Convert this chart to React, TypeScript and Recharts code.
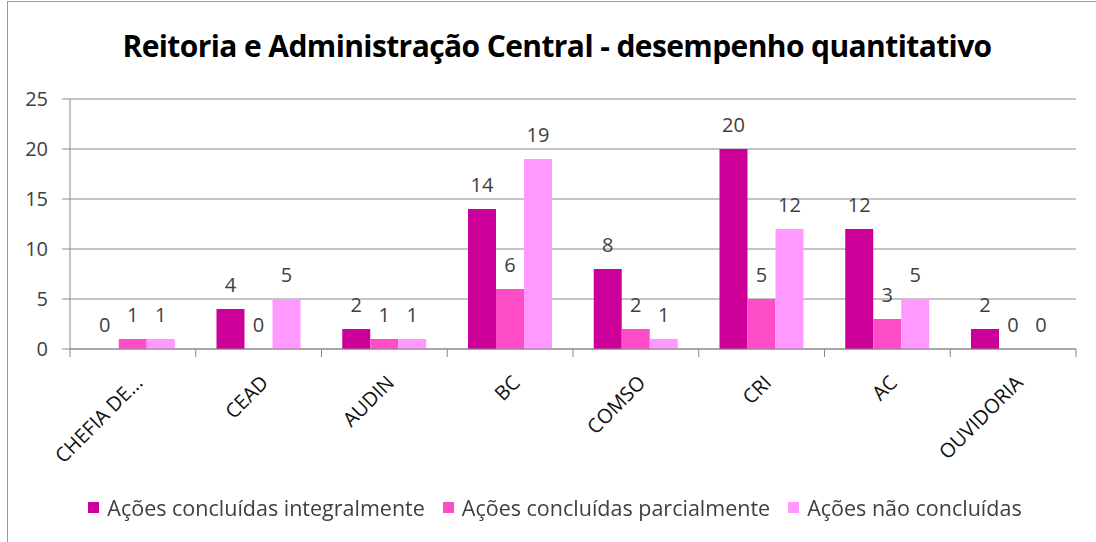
import { Bar, BarChart, CartesianGrid, LabelList, Legend, XAxis, YAxis } from "recharts";

const CATEGORIES = ["CHEFIA DE...", "CEAD", "AUDIN", "BC", "COMSO", "CRI", "AC", "OUVIDORIA"];
const INTEGRAL = [0, 4, 2, 14, 8, 20, 12, 2];
const PARCIAL = [1, 0, 1, 6, 2, 5, 3, 0];
const NAO = [1, 5, 1, 19, 1, 12, 5, 0];
const Y_TICKS = [0, 5, 10, 15, 20, 25];

const SERIES = [
  { key: "integral", name: "Ações concluídas integralmente", color: "#cc0099" },
  { key: "parcial", name: "Ações concluídas parcialmente", color: "#ff4dc8" },
  { key: "nao", name: "Ações não concluídas", color: "#ff99ff" },
] as const;

const data = CATEGORIES.map((c, i) => ({
  name: c,
  integral: INTEGRAL[i],
  parcial: PARCIAL[i],
  nao: NAO[i],
}));

const FONT = "'Open Sans', sans-serif";
const TEXT = "#404040";
const GRID = "#8a8a8a";

/**
 * Slanted category label, plus the small tick marks Excel puts on the
 * borders between groups (payload.offset is half the band width).
 */
function SlantTick({
  x,
  y,
  index,
  payload,
}: {
  x?: number;
  y?: number;
  index?: number;
  payload?: { value: string; offset?: number };
}) {
  if (x == null || y == null || !payload) return null;
  const half = payload.offset ?? 0;
  const last = index === CATEGORIES.length - 1;
  return (
    <g transform={`translate(${x},${y})`}>
      <line x1={-half} y1={0} x2={-half} y2={8} stroke={GRID} />
      {last && <line x1={half} y1={0} x2={half} y2={8} stroke={GRID} />}
      <text
        x={11}
        y={35}
        textAnchor="end"
        transform="rotate(-45, 11, 35)"
        fontSize={20}
        fontFamily={FONT}
        fill="#111"
      >
        {payload.value}
      </text>
    </g>
  );
}

function ChartLegend() {
  return (
    <div style={{ display: "flex", justifyContent: "center", fontFamily: FONT, fontSize: 21.5, color: TEXT }}>
      {SERIES.map((s) => (
        <span key={s.key} style={{ display: "inline-flex", alignItems: "center", margin: "0 9px" }}>
          <span style={{ width: 11, height: 11, background: s.color, marginRight: 8, display: "inline-block" }} />
          {s.name}
        </span>
      ))}
    </div>
  );
}

export default function App() {
  return (
    <div style={{ position: "fixed", left: 0, top: 0, width: 1096, height: 542, background: "#fff" }}>
      <div
        style={{
          position: "absolute",
          left: 7,
          top: 1,
          width: 1100,
          height: 560,
          borderLeft: "1px solid #9a9a9a",
          borderTop: "1px solid #9a9a9a",
        }}
      />
      <div
        style={{
          position: "absolute",
          left: 0,
          top: 27,
          width: 1114,
          textAlign: "center",
          fontFamily: FONT,
          fontWeight: 700,
          fontSize: 30,
          color: "#000",
          lineHeight: "38px",
          letterSpacing: -0.6,
        }}
      >
        Reitoria e Administração Central - desempenho quantitativo
      </div>
      <BarChart
        width={1096}
        height={542}
        data={data}
        margin={{ top: 99, right: 20, bottom: 83, left: 0 }}
        barCategoryGap="16.5%"
        barGap={0}
        style={{ position: "absolute", left: 0, top: 0 }}
      >
        <CartesianGrid stroke={GRID} vertical={false} />
        <XAxis
          dataKey="name"
          interval={0}
          height={110}
          tick={<SlantTick />}
          tickSize={0}
          tickMargin={0}
          tickLine={false}
          axisLine={{ stroke: GRID }}
        />
        <YAxis
          domain={[0, 25]}
          ticks={Y_TICKS}
          width={70}
          tick={{ fontSize: 20, fill: TEXT, fontFamily: FONT }}
          tickSize={8}
          tickMargin={14}
          tickLine={{ stroke: GRID }}
          axisLine={{ stroke: GRID }}
        />
        {SERIES.map((s) => (
          <Bar
            key={s.key}
            dataKey={s.key}
            name={s.name}
            fill={s.color}
            minPointSize={0.01}
            isAnimationActive={false}
          >
            <LabelList
              dataKey={s.key}
              position="top"
              offset={17}
              fill={TEXT}
              fontSize={20}
              fontFamily={FONT}
            />
          </Bar>
        ))}
        <Legend
          verticalAlign="middle"
          content={<ChartLegend />}
          wrapperStyle={{ top: 493, left: 0, width: 1110 }}
        />
      </BarChart>
    </div>
  );
}
